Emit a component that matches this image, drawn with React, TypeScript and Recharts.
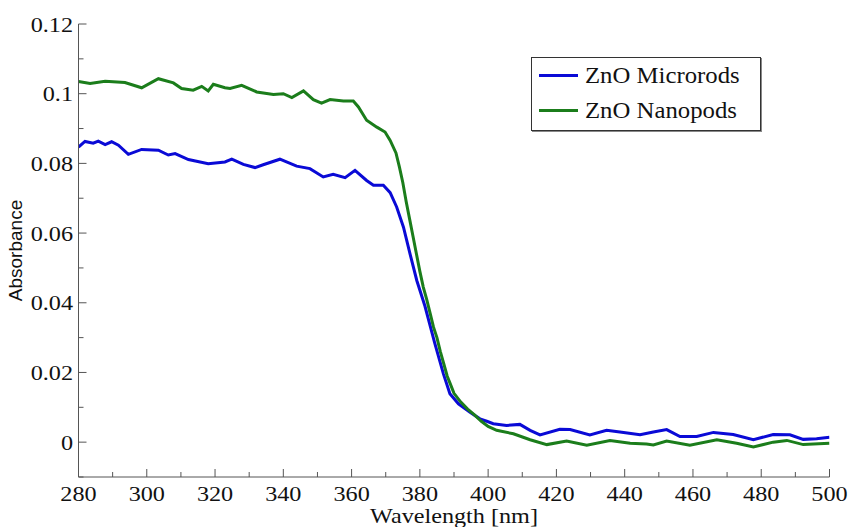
import React from 'react';
import { LineChart, Line, XAxis, YAxis, Legend } from 'recharts';

const seriesNames = ['ZnO Microrods', 'ZnO Nanopods'];
const seriesColors = ['#0a0ad6', '#1b7d1b'];

const microWavelength = [
  280, 281.9, 284.3, 285.8, 287.8, 289.7, 291.7, 294.6, 298.5, 303.4, 306.3, 308.3, 312.2, 318, 322.9,
  324.9, 328.3, 331.7, 334.1, 339, 343.9, 347.8, 351.7, 354.6, 358.1, 361, 364.4, 366.4, 369.3, 371.3,
  373.2, 375.2, 377.1, 379.1, 381.5, 384.4, 386.9, 388.8, 391.3, 394.7, 397.6, 399.6, 401.5, 405.4,
  409.3, 412.3, 415.2, 421, 424, 429.8, 434.7, 438.6, 444.5, 448.4, 452.3, 456.2, 461.1, 466, 471.8,
  477.7, 483.5, 488.4, 492.3, 496.2, 500,
];
const microAbsorbance = [
  0.0847, 0.0863, 0.0858, 0.0864, 0.0854, 0.0862, 0.0852, 0.0826, 0.084, 0.0838, 0.0824, 0.0828, 0.0811, 0.0799, 0.0804,
  0.0812, 0.0797, 0.0788, 0.0796, 0.0812, 0.0792, 0.0785, 0.0761, 0.0769, 0.0759, 0.078, 0.0751, 0.0737, 0.0737, 0.0716,
  0.0675, 0.0617, 0.0541, 0.0464, 0.039, 0.0283, 0.0196, 0.0139, 0.011, 0.0086, 0.0067, 0.006, 0.0053, 0.0048,
  0.0051, 0.0034, 0.0021, 0.0037, 0.0036, 0.0021, 0.0034, 0.0029, 0.0021, 0.0029, 0.0036, 0.0016, 0.0016, 0.0028, 0.0022,
  0.0007, 0.0022, 0.0021, 0.0008, 0.001, 0.0014,
];

const nanoWavelength = [
  280, 283.4, 287.8, 293.6, 298.5, 303.4, 307.8, 310.2, 313.6, 316.1, 318, 319.5, 322.9, 324.4, 327.8,
  332.2, 337.1, 340, 342.5, 345.9, 348.8, 351.2, 353.7, 357.6, 360.5, 362, 364.4, 367.4, 369.8, 371.3,
  373, 374, 375, 376, 377, 378, 379, 380, 381, 382, 383, 384, 385, 386, 387, 388, 389, 390, 392, 394,
  396, 398, 400, 402.5, 407.4, 412.3, 417.2, 423, 428.9, 435.7, 441.6, 446.4, 448.4, 452.3, 459.1, 467,
  472.8, 477.7, 483.5, 487.5, 492.3, 500,
];
const nanoAbsorbance = [
  0.1035, 0.1029, 0.1036, 0.1032, 0.1017, 0.1043, 0.1031, 0.1015, 0.101, 0.1021, 0.1008, 0.1027, 0.1017, 0.1015, 0.1024,
  0.1005, 0.0998, 0.1, 0.0989, 0.1008, 0.0983, 0.0973, 0.0983, 0.0979, 0.0979, 0.0962, 0.0924, 0.0904, 0.089, 0.0866,
  0.083, 0.079, 0.0745, 0.069, 0.064, 0.059, 0.054, 0.049, 0.0445, 0.041, 0.037, 0.033, 0.03, 0.026, 0.0225, 0.019, 0.0165, 0.014, 0.0115, 0.0095,
  0.0078, 0.006, 0.0045, 0.0034, 0.0024, 0.0007, -0.0007, 0.0003, -0.0009, 0.0005, -0.0003, -0.0005, -0.0008, 0.0003, -0.0009, 0.0007,
  -0.0003, -0.0014, 0, 0.0005, -0.0007, -0.0003,
];

const xTicks = [280, 290, 300, 310, 320, 330, 340, 350, 360, 370, 380, 390, 400, 410, 420, 430, 440, 450, 460, 470, 480, 490, 500];
const yTicks = [-0.01, 0, 0.01, 0.02, 0.03, 0.04, 0.05, 0.06, 0.07, 0.08, 0.09, 0.1, 0.11, 0.12];

const microData = microWavelength.map((w, i) => ({ wavelength: w, absorbance: microAbsorbance[i] }));
const nanoData = nanoWavelength.map((w, i) => ({ wavelength: w, absorbance: nanoAbsorbance[i] }));

const AXIS_COLOR = '#555';
const SERIF = 'Liberation Serif';
const SANS = 'Liberation Sans';
const STRETCH = 1.1;

const XTick = (props: any) => {
  const { x, y, payload } = props;
  const v = payload.value;
  const major = Math.round(v) % 20 === 0;
  return (
    <g>
      <line x1={x} x2={x} y1={y} y2={y - (major ? 8 : 5)} stroke={AXIS_COLOR} strokeWidth={1} />
      {major && (
        <text
          transform={`translate(${x}, ${y + 23.5}) scale(${STRETCH}, 1)`}
          x={0}
          y={0}
          textAnchor="middle"
          fontFamily={SERIF}
          fontSize={22}
          fill="#111"
        >
          {v}
        </text>
      )}
    </g>
  );
};

const YTick = (props: any) => {
  const { x, y, payload } = props;
  const k = Math.round(payload.value * 100);
  const major = k % 2 === 0 && k >= 0;
  const label = k === 0 ? '0' : String(k / 100);
  return (
    <g>
      <line x1={x} x2={x + (major ? 8 : 5)} y1={y} y2={y} stroke={AXIS_COLOR} strokeWidth={1} />
      {major && (
        <text
          transform={`translate(${x - 5.5}, ${y + 7.5}) scale(${STRETCH}, 1)`}
          x={0}
          y={0}
          textAnchor="end"
          fontFamily={SERIF}
          fontSize={22}
          fill="#111"
        >
          {label}
        </text>
      )}
    </g>
  );
};

const YLabel = (props: any) => {
  const vb = props.viewBox || { x: 0, y: 24, width: 78.5, height: 453 };
  const cy = vb.y + vb.height / 2;
  const cx = 15;
  return (
    <text
      x={cx}
      y={cy}
      transform={`rotate(-90, ${cx}, ${cy})`}
      textAnchor="middle"
      dominantBaseline="central"
      fontFamily={SANS}
      fontSize={19}
      fill="#111"
    >
      Absorbance
    </text>
  );
};

const XLabel = (props: any) => {
  const vb = props.viewBox || { x: 78.5, y: 477, width: 751, height: 50 };
  const cx = vb.x + vb.width / 2;
  return (
    <text
      transform={`translate(${cx}, ${vb.y + 46}) scale(${STRETCH}, 1)`}
      x={0}
      y={0}
      textAnchor="middle"
      fontFamily={SERIF}
      fontSize={22}
      fill="#111"
    >
      Wavelength [nm]
    </text>
  );
};

const renderLegend = () => (
  <div
    style={{
      width: 230,
      height: 74,
      boxSizing: 'border-box',
      border: '1px solid #333',
      boxShadow: '1px 1px 0 #888',
      background: '#fff',
    }}
  >
    {seriesNames.map((name, i) => (
      <div key={name} style={{ display: 'flex', alignItems: 'center', height: 35 }}>
        <span
          style={{ display: 'inline-block', marginLeft: 7, width: 39, height: 3, background: seriesColors[i] }}
        />
        <span
          style={{
            marginLeft: 7,
            fontFamily: SERIF,
            fontSize: 22.5,
            color: '#111',
            lineHeight: '35px',
            display: 'inline-block',
            transform: `scaleX(${STRETCH})`,
            transformOrigin: 'left center',
            whiteSpace: 'nowrap',
          }}
        >
          {name}
        </span>
      </div>
    ))}
  </div>
);

export default function App() {
  return (
    <div style={{ position: 'absolute', left: 0, top: 0 }}>
      <LineChart width={849} height={527} margin={{ top: 24, right: 19.5, bottom: 0, left: 0 }}>
        <XAxis
          dataKey="wavelength"
          type="number"
          domain={[280, 500]}
          ticks={xTicks}
          interval={0}
          allowDataOverflow
          height={50}
          tickSize={0}
          tickMargin={0}
          tick={<XTick />}
          stroke={AXIS_COLOR}
          axisLine={{ stroke: AXIS_COLOR, strokeWidth: 1 }}
          label={<XLabel />}
        />
        <YAxis
          type="number"
          domain={[-0.01, 0.12]}
          ticks={yTicks}
          interval={0}
          allowDataOverflow
          width={78.5}
          tickSize={0}
          tickMargin={0}
          tick={<YTick />}
          stroke={AXIS_COLOR}
          axisLine={{ stroke: AXIS_COLOR, strokeWidth: 1 }}
          label={<YLabel />}
        />
        <Legend
          verticalAlign="middle"
          align="center"
          layout="horizontal"
          wrapperStyle={{ left: 531, top: 57, width: 230, height: 74 }}
          content={renderLegend}
        />
        <Line
          data={microData}
          dataKey="absorbance"
          name={seriesNames[0]}
          stroke={seriesColors[0]}
          strokeWidth={3}
          dot={false}
          activeDot={false}
          type="linear"
          isAnimationActive={false}
        />
        <Line
          data={nanoData}
          dataKey="absorbance"
          name={seriesNames[1]}
          stroke={seriesColors[1]}
          strokeWidth={3}
          dot={false}
          activeDot={false}
          type="linear"
          isAnimationActive={false}
        />
      </LineChart>
    </div>
  );
}
